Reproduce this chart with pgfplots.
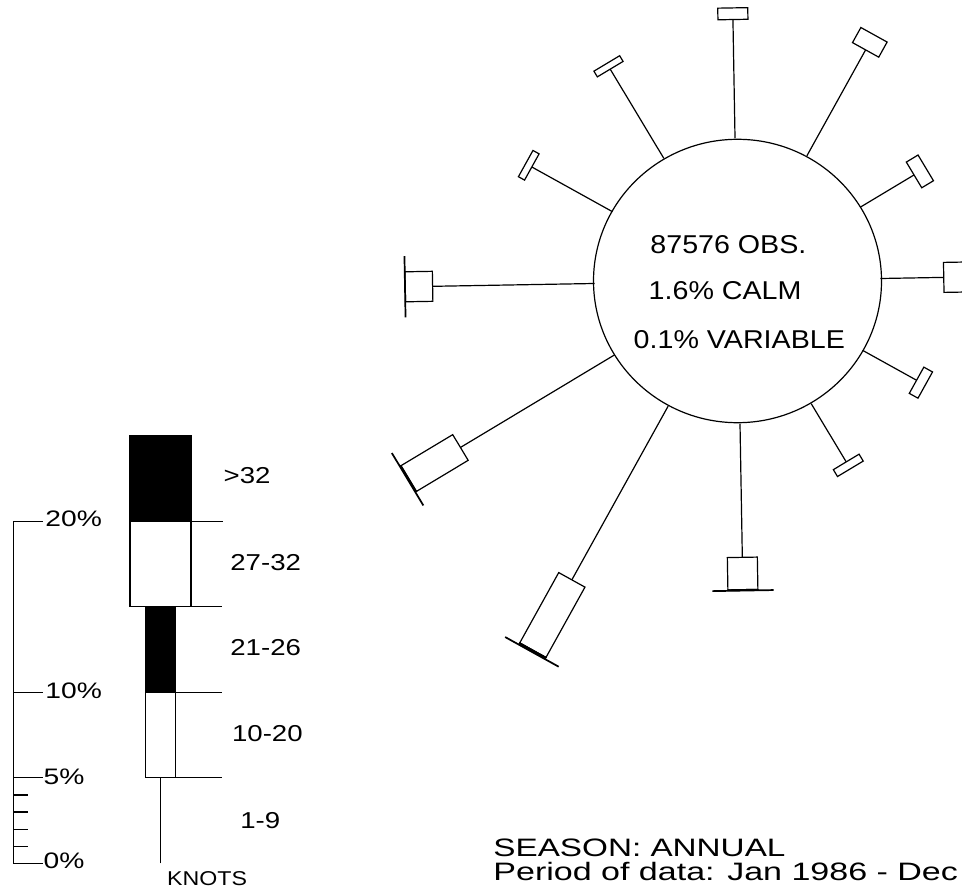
\documentclass[border=0pt]{standalone}
\usepackage{pgfplots}
\pgfplotsset{compat=1.18}
\usepackage{fontspec}
\setmainfont{Liberation Sans}
\usepackage{graphicx}

% rose geometry (reference pixel units)
\def\cx{737.5}\def\cy{281}\def\R{143}\def\sc{17.1}\def\rot{-1}
\newcommand\rosept[3]{%
 \pgfmathsetmacro\px{\cx+(\R+\sc*(#2))*sin(#1+\rot)+(#3)*cos(#1+\rot)}%
 \pgfmathsetmacro\py{\cy-(\R+\sc*(#2))*cos(#1+\rot)+(#3)*sin(#1+\rot)}%
}
\newcommand\rosebox[5]{% angle, r0, r1, half width, style
 \rosept{#1}{#2}{-#4}\let\xa\px\let\ya\py
 \rosept{#1}{#3}{-#4}\let\xb\px\let\yb\py
 \rosept{#1}{#3}{#4}\let\xc\px\let\yc\py
 \rosept{#1}{#2}{#4}\let\xd\px\let\yd\py
 \addplot[#5] coordinates {(\xa,\ya) (\xb,\yb) (\xc,\yc) (\xd,\yd)} -- cycle;
}
% \spoke{direction}{1-9}{10-20}{21-26}{27-32}{>32}  (percent)
\newcommand\spoke[6]{%
 \rosept{#1}{0}{0}\let\xa\px\let\ya\py
 \rosept{#1}{#2}{0}\let\xb\px\let\yb\py
 \addplot[draw=black] coordinates {(\xa,\ya) (\xb,\yb)};
 \pgfmathsetmacro\ra{#2}\pgfmathsetmacro\rb{#2+#3}%
 \pgfmathsetmacro\rc{#2+#3+#4}\pgfmathsetmacro\rd{#2+#3+#4+#5}%
 \pgfmathsetmacro\re{#2+#3+#4+#5+#6}%
 \ifdim #3pt>0pt \rosebox{#1}{\ra}{\rb}{15}{draw=black,fill=white}\fi
 \ifdim #4pt>0pt \rosebox{#1}{\rb}{\rc}{15}{draw=black,fill=black}\fi
 \ifdim #5pt>0pt \rosebox{#1}{\rc}{\rd}{30}{draw=black,fill=white}\fi
 \ifdim #6pt>0pt \rosebox{#1}{\rd}{\re}{30}{draw=black,fill=black}\fi
}
\newcommand\lbl[5]{% x, y(baseline), size, hscale, text
 \node[anchor=base west, inner sep=0pt, font=\fontsize{#3}{#3}\selectfont] at (axis cs:#1,#2) {\scalebox{#4}[1]{#5}};
}

\begin{document}
\begin{tikzpicture}
\begin{axis}[name=ax, hide axis, scale only axis, x=0.5pt, y=0.5pt,
  xmin=0, xmax=962, ymin=0, ymax=892, y dir=reverse,
  every axis plot/.append style={line width=0.6pt}]

% ---- wind rose ----
\draw[line width=0.6pt] (axis cs:737.5,281) ellipse [x radius=144, y radius=141.7];
\spoke{0}{6.93}{0.68}{0}{0}{0}
\spoke{30}{7.09}{1.01}{0}{0}{0}
\spoke{60}{3.68}{0.80}{0}{0}{0}
\spoke{90}{3.70}{1.60}{0}{0}{0}
\spoke{120}{3.61}{0.58}{0}{0}{0}
\spoke{150}{3.98}{0.47}{0}{0}{0}
\spoke{180}{7.80}{1.89}{0.04}{0.03}{0}
\spoke{210}{11.62}{4.70}{0.10}{0.03}{0}
\spoke{240}{10.54}{3.53}{0.06}{0.03}{0}
\spoke{270}{9.47}{1.60}{0}{0.03}{0}
\spoke{300}{5.39}{0.41}{0}{0}{0}
\spoke{330}{6.09}{0.39}{0}{0}{0}

\lbl{650}{253.3}{12.9pt}{1.11}{87576 OBS.}
\lbl{648.3}{300}{12.9pt}{1.11}{1.6\% CALM}
\lbl{633.3}{348.3}{12.9pt}{1.11}{0.1\% VARIABLE}

% ---- percent scale ----
\addplot[draw=black] coordinates {(13.3,863.3) (13.3,521.3)};
\addplot[draw=black] coordinates {(13.3,521.3) (43,521.3)};
\addplot[draw=black] coordinates {(13.3,692.3) (43,692.3)};
\addplot[draw=black] coordinates {(13.3,777.8) (43,777.8)};
\addplot[draw=black] coordinates {(13.3,863.3) (43,863.3)};
\addplot[draw=black] coordinates {(13.3,846.2) (28.3,846.2)};
\addplot[draw=black] coordinates {(13.3,829.1) (28.3,829.1)};
\addplot[draw=black] coordinates {(13.3,812.0) (28.3,812.0)};
\addplot[draw=black] coordinates {(13.3,794.9) (28.3,794.9)};
\lbl{45}{526}{11.2pt}{1.26}{20\%}
\lbl{45}{698.3}{11.2pt}{1.26}{10\%}
\lbl{43.3}{784}{11.2pt}{1.26}{5\%}
\lbl{43.3}{868.3}{11.2pt}{1.26}{0\%}

% ---- speed key ----
\addplot[draw=black] coordinates {(160.5,863.3) (160.5,777.8)};
\addplot[draw=black,fill=white] coordinates {(145.5,777.8) (175.5,777.8) (175.5,692.3) (145.5,692.3)} -- cycle;
\addplot[draw=black,fill=black] coordinates {(145.5,692.3) (175.5,692.3) (175.5,606.8) (145.5,606.8)} -- cycle;
\addplot[draw=black,fill=white] coordinates {(130,606.8) (191,606.8) (191,521.3) (130,521.3)} -- cycle;
\addplot[draw=black,fill=black] coordinates {(130,521.3) (191,521.3) (191,435.8) (130,435.8)} -- cycle;
\addplot[draw=black] coordinates {(175.5,777.8) (221.7,777.8)};
\addplot[draw=black] coordinates {(175.5,692.3) (221.7,692.3)};
\addplot[draw=black] coordinates {(191,606.8) (221.7,606.8)};
\addplot[draw=black] coordinates {(191,521.3) (222.7,521.3)};
\lbl{223.3}{483.3}{11.5pt}{1.2}{>32}
\lbl{230}{570}{11.5pt}{1.2}{27-32}
\lbl{230}{655}{11.5pt}{1.2}{21-26}
\lbl{231.7}{741.7}{11.5pt}{1.2}{10-20}
\lbl{240}{828.3}{11.5pt}{1.2}{1-9}
\lbl{166.7}{885}{10pt}{1.16}{KNOTS}

% ---- footer ----
\lbl{493}{856}{12.6pt}{1.32}{SEASON: ANNUAL}
\lbl{493}{880}{12.6pt}{1.35}{Period of data: Jan 1986 - Dec}
\end{axis}
\pgfresetboundingbox
\path[use as bounding box] (ax.south west) rectangle (ax.north east);
\end{tikzpicture}
\end{document}
